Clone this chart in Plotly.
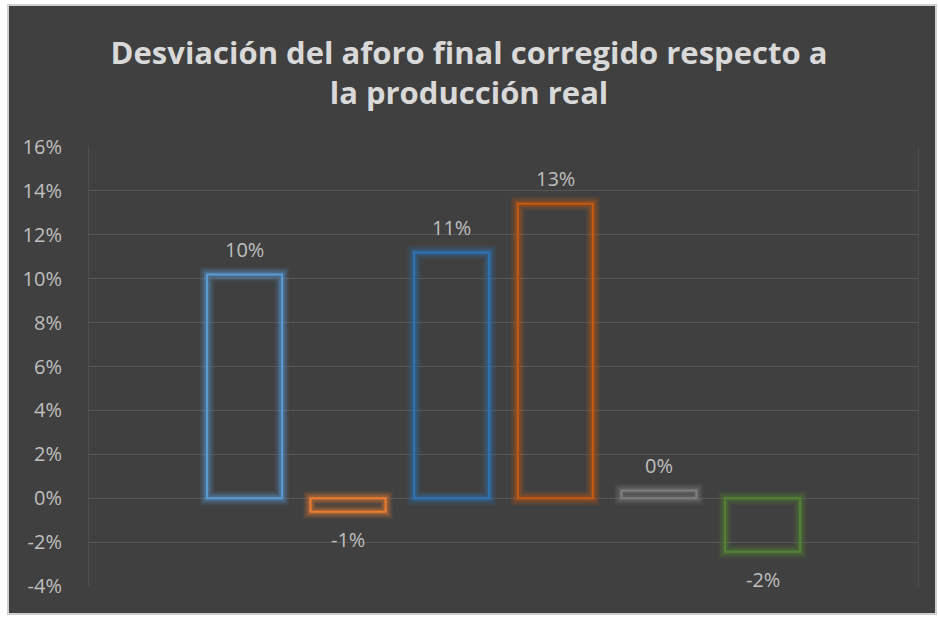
import plotly.graph_objects as go

# Posición de cada barra en el eje (8 huecos, primero y último vacíos)
posiciones = [1, 2, 3, 4, 5, 6]
# Desviación del aforo final corregido respecto a la producción real
desviacion = [0.1019, -0.0062, 0.1119, 0.1342, 0.0035, -0.0244]
# Color de contorno de cada barra
colores = ["#5B9BD5", "#ED7D31", "#2E75B6", "#C55A11", "#7F7F7F", "#548235"]

tick_vals = [-0.04, -0.02, 0, 0.02, 0.04, 0.06, 0.08, 0.10, 0.12, 0.14, 0.16]
tick_text = ["-4%", "-2%", "0%", "2%", "4%", "6%", "8%", "10%", "12%", "14%", "16%"]

W, H = 938, 617
L, R, T, B = 89, 20, 147, 31
PW, PH = W - L - R, H - T - B


def rgba(hex_color, a):
    h = hex_color.lstrip("#")
    r, g, b = int(h[0:2], 16), int(h[2:4], 16), int(h[4:6], 16)
    return f"rgba({r},{g},{b},{a})"


fig = go.Figure()

# Halo difuso alrededor del contorno de cada barra
halo = [(14, 0.12), (10, 0.18), (6, 0.30)]
for ancho, alfa in halo:
    fig.add_trace(go.Bar(
        x=posiciones, y=desviacion, width=0.724,
        marker=dict(color="rgba(0,0,0,0)",
                    line=dict(color=[rgba(c, alfa) for c in colores], width=ancho)),
        hoverinfo="skip", showlegend=False,
    ))

# Contorno nítido
fig.add_trace(go.Bar(
    x=posiciones, y=desviacion, width=0.724,
    marker=dict(color="rgba(0,0,0,0)", line=dict(color=colores, width=2)),
    showlegend=False,
))

# Etiquetas de valor
for xp, v in zip(posiciones, desviacion):
    fig.add_annotation(
        x=xp, y=v, text=f"{v:.0%}", showarrow=False,
        yshift=25 if v >= 0 else -28,
        font=dict(family="Open Sans", size=20, color="#BFBFBF"),
    )


def px_x(p):
    return (p - L) / PW


def px_y(p):
    return (H - B - p) / PH


# Fondo oscuro del gráfico con borde claro
fig.add_shape(type="rect", xref="paper", yref="paper",
              x0=px_x(8), x1=px_x(936), y0=px_y(614), y1=px_y(5),
              fillcolor="#404040", line=dict(color="#D0D0D0", width=2),
              layer="below")

fig.update_layout(
    width=W, height=H,
    margin=dict(l=L, r=R, t=T, b=B),
    paper_bgcolor="#FFFFFF",
    plot_bgcolor="rgba(0,0,0,0)",
    barmode="overlay",
    title=dict(
        text="Desviación del aforo final corregido respecto a<br>la producción real",
        x=0.5, xanchor="center", xref="container",
        y=1 - 64 / H, yanchor="middle", yref="container",
        font=dict(family="Open Sans", size=31, color="#D9D9D9", weight="bold"),
    ),
    xaxis=dict(range=[-0.5, 7.5], showticklabels=False, showgrid=False,
               zeroline=False, showline=False, ticks=""),
    yaxis=dict(range=[-0.04, 0.16], tickvals=tick_vals, ticktext=tick_text,
               showgrid=True, gridcolor="#575757", gridwidth=1,
               zeroline=True, zerolinecolor="#575757", zerolinewidth=1,
               showline=True, mirror=True, linecolor="#4E4E4E", linewidth=1,
               ticks="", ticklabelstandoff=22,
               tickfont=dict(family="Open Sans", size=20, color="#BFBFBF")),
    font=dict(family="Open Sans"),
)

fig.write_html("out.html")
